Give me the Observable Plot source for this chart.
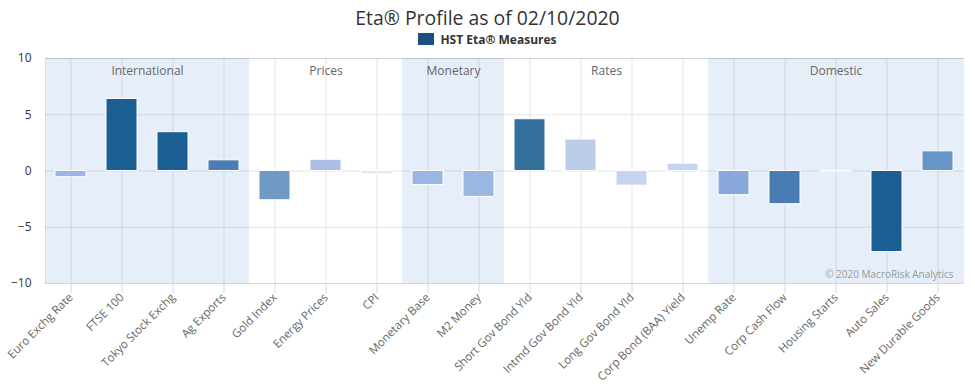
<!DOCTYPE html>
<html>
<head>
<meta charset="utf-8">
<script src="https://cdn.jsdelivr.net/npm/d3@7"></script>
<script src="https://cdn.jsdelivr.net/npm/@observablehq/plot@0.6"></script>
<style>
  body { margin: 0; background: #fff; font-family: "Open Sans", sans-serif; }
  #wrap { position: relative; width: 975px; height: 386px; }
  #title { position: absolute; top: 4px; left: 0; width: 975px; text-align: center; font-size: 19.4px; color: #333; }
  #legend { position: absolute; top: 31px; left: 0; width: 975px; text-align: center; font-size: 12px; font-weight: bold; color: #333; }
  #legend .sw { display: inline-block; width: 16px; height: 12px; background: #1c4f80; vertical-align: -1px; margin-right: 6px; }
  #chart { position: absolute; top: 50px; left: 0; }
  #chart svg { overflow: visible; }
</style>
</head>
<body>
<div id="wrap">
  <div id="title">Eta® Profile as of 02/10/2020</div>
  <div id="legend"><span class="sw"></span>HST Eta® Measures</div>
  <div id="chart"></div>
</div>
<script>
const categories = ["Euro Exchg Rate", "FTSE 100", "Tokyo Stock Exchg", "Ag Exports", "Gold Index", "Energy Prices", "CPI", "Monetary Base", "M2 Money", "Short Gov Bond Yld", "Intmd Gov Bond Yld", "Long Gov Bond Yld", "Corp Bond (BAA) Yield", "Unemp Rate", "Corp Cash Flow", "Housing Starts", "Auto Sales", "New Durable Goods"];
const values = [-0.55, 6.4, 3.45, 0.95, -2.6, 1.0, -0.3, -1.25, -2.3, 4.6, 2.8, -1.3, 0.65, -2.15, -2.95, -0.05, -7.2, 1.75];
const groupNames = ["International", "Prices", "Monetary", "Rates", "Domestic"];
const groupSizes = [4, 3, 2, 4, 5];
const shadedGroups = ["International", "Monetary", "Domestic"];
const yTicks = [-10, -5, 0, 5, 10];
const credit = "© 2020 MacroRisk Analytics";

// per-bar shading as in the reference
const barColors = ["#9ab6e2", "#1b5e94", "#1b5e94", "#4a7db5", "#7099c3", "#aabde5", "#e0e8f5", "#9ab6e2", "#9ab6e2", "#336f9b", "#bccde9", "#c6d5ef", "#c6d5ef", "#89a8dc", "#487cb2", "#c5d5ef", "#1b5e94", "#6996c8"];

const groupOf = [];
groupNames.forEach((g, i) => { for (let k = 0; k < groupSizes[i]; k++) groupOf.push(g); });
const data = categories.map((c, i) => ({cat: c, value: values[i], group: groupOf[i], color: barColors[i]}));
const shaded = data.filter(d => shadedGroups.includes(d.group));

const W = 975, H = 336, mL = 45, mR = 12, mT = 8, mB = 103;
const bw = (W - mL - mR) / categories.length;

const groupLabelMarks = [];
let start = 0;
groupNames.forEach((g, i) => {
  const n = groupSizes[i];
  const mid = categories[start + Math.floor((n - 1) / 2)];
  groupLabelMarks.push(Plot.text([g], {x: () => mid, y: () => 10, text: d => d, dx: n % 2 === 0 ? bw / 2 : 0, dy: 13, fill: "#666", fontSize: 12}));
  start += n;
});

const chart = Plot.plot({
  width: W, height: H,
  marginLeft: mL, marginRight: mR, marginTop: mT, marginBottom: mB,
  style: {fontFamily: "Open Sans, sans-serif", fontSize: "11px", background: "#fff", overflow: "visible"},
  x: {type: "band", domain: categories, padding: 0, label: null},
  y: {domain: [-10, 10], label: null},
  marks: [
    Plot.barY(shaded, {x: "cat", y1: -10, y2: 10, fill: "#e6eff9", shapeRendering: "crispEdges"}),
    Plot.ruleX(categories, {x: d => d, y1: -10, y2: 10, stroke: "#000", strokeOpacity: 0.1}),
    Plot.ruleY(yTicks, {stroke: "#000", strokeOpacity: 0.1}),
    Plot.frame({stroke: "#000", strokeOpacity: 0.08}),
    Plot.barY(data, {x: "cat", y: "value", fill: "color", stroke: "#fff", strokeWidth: 1, insetLeft: 10, insetRight: 10}),
    ...groupLabelMarks,
    Plot.text([credit], {frameAnchor: "bottom-right", text: d => d, dx: -10, dy: -6, fill: "#999", fontSize: 10}),
    Plot.ruleY([-10], {stroke: "#ccd6eb"}),
    Plot.axisX({tickSize: 10, tickPadding: 2, tickRotate: -45, stroke: "#ccd6eb", fill: "#666", fontSize: 11.5, label: null}),
    Plot.axisY({ticks: yTicks, tickSize: 0, tickPadding: 14, fill: "#333", fontSize: 12, label: null})
  ]
});
document.getElementById("chart").appendChild(chart);
</script>
</body>
</html>
